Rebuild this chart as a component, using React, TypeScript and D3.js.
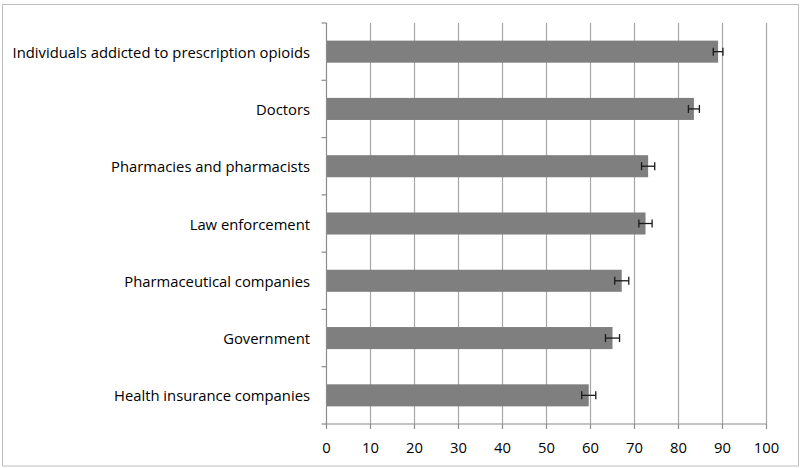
import React from "react";
import * as d3 from "d3";

const categories = [
  "Individuals addicted to prescription opioids",
  "Doctors",
  "Pharmacies and pharmacists",
  "Law enforcement",
  "Pharmaceutical companies",
  "Government",
  "Health insurance companies",
];
const values = [89.0, 83.5, 73.1, 72.5, 67.1, 65.0, 59.6];
const errors = [1.1, 1.25, 1.5, 1.5, 1.6, 1.6, 1.6];
const xTicks = [0, 10, 20, 30, 40, 50, 60, 70, 80, 90, 100];

export default function App() {
  const W = 800, H = 468;
  const left = 326.5, right = 766.5, top = 23, bottom = 424;
  const x = d3.scaleLinear().domain([0, 100]).range([left, right]);
  const y = d3.scaleBand<string>().domain(categories).range([top, bottom]).paddingInner(0.615).paddingOuter(0.3075);
  const band = (bottom - top) / categories.length;
  const font = "'Open Sans', sans-serif";
  return (
    <svg width={W} height={H} style={{ position: "absolute", left: 0, top: 0, display: "block" }}>
      <rect x={0} y={0} width={W} height={H} fill="#fff" />
      <rect x={2.5} y={4.5} width={796} height={461.5} fill="none" stroke="#bfbfbf" strokeWidth={1} />
      {xTicks.filter((t) => t > 0).map((t) => (
        <line key={t} x1={x(t)} x2={x(t)} y1={top} y2={bottom} stroke="#a6a6a6" strokeWidth={1.2} />
      ))}
      {categories.map((c, i) => (
        <rect key={c} x={x(0)} y={y(c)!} width={x(values[i]) - x(0)} height={y.bandwidth()} fill="#7f7f7f" />
      ))}
      {categories.map((c, i) => {
        const cy = y(c)! + y.bandwidth() / 2;
        const x1 = x(values[i] - errors[i]);
        const x2 = x(values[i] + errors[i]);
        return (
          <g key={c} stroke="#1a1a1a" strokeWidth={1.3}>
            <line x1={x1} x2={x2} y1={cy} y2={cy} />
            <line x1={x1} x2={x1} y1={cy - 4} y2={cy + 4} />
            <line x1={x2} x2={x2} y1={cy - 4} y2={cy + 4} />
          </g>
        );
      })}
      <line x1={left} x2={left} y1={top} y2={bottom} stroke="#8c8c8c" strokeWidth={1.2} />
      <line x1={left} x2={right} y1={bottom} y2={bottom} stroke="#8c8c8c" strokeWidth={1.2} />
      {d3.range(categories.length + 1).map((i) => (
        <line key={i} x1={left - 5} x2={left} y1={top + i * band} y2={top + i * band} stroke="#8c8c8c" strokeWidth={1.2} />
      ))}
      {xTicks.map((t) => (
        <line key={t} x1={x(t)} x2={x(t)} y1={bottom} y2={bottom + 5} stroke="#8c8c8c" strokeWidth={1.2} />
      ))}
      {xTicks.map((t) => (
        <text key={t} x={x(t)} y={447} textAnchor="middle" dominantBaseline="central" fontFamily={font} fontSize={14.8} fill="#000">
          {t}
        </text>
      ))}
      {categories.map((c) => (
        <text key={c} x={310} y={y(c)! + y.bandwidth() / 2} textAnchor="end" dominantBaseline="central" fontFamily={font} fontSize={14.8} fill="#000">
          {c}
        </text>
      ))}
    </svg>
  );
}
